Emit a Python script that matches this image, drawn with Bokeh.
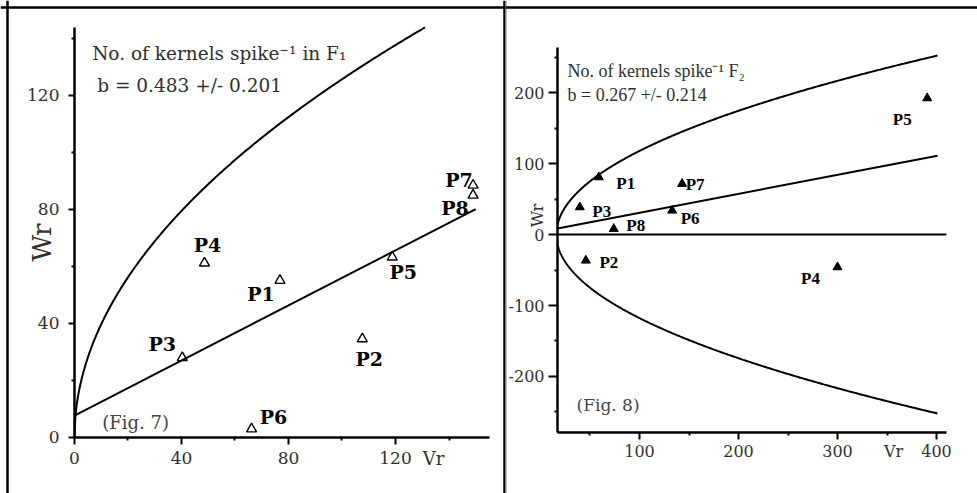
import numpy as np
from bokeh.plotting import figure
from bokeh.layouts import row
from bokeh.models import Range1d, FixedTicker, Span, ColumnDataSource
from bokeh.core.properties import value
from bokeh.embed import file_html
from bokeh.resources import INLINE

# ---- Fig. 7: No. of kernels per spike, F1 ----
f1_names = ["P1", "P2", "P3", "P4", "P5", "P6", "P7", "P8"]
f1_vr = [76.8, 107.6, 40.3, 48.6, 118.8, 66.2, 149.0, 149.0]
f1_wr = [55.1, 34.6, 28.0, 61.2, 63.3, 3.0, 88.5, 85.0]
f1_a, f1_b = 7.7, 0.483          # regression Wr = a + b*Vr
f1_line_vr = [0.0, 150.0]
f1_vp = 158.0                    # limiting parabola Wr^2 = Vp*Vr
f1_parab_end = 131.0
f1_xticks, f1_xminor = [0, 40, 80, 120], [20, 60, 100, 140]
f1_yticks, f1_yminor = [0, 40, 80, 120], [20, 60, 100, 140]

# ---- Fig. 8: No. of kernels per spike, F2 ----
f2_names = ["P1", "P2", "P3", "P4", "P5", "P6", "P7", "P8"]
f2_vr = [58.9, 45.8, 39.7, 300.0, 390.6, 133.0, 143.0, 74.0]
f2_wr = [80.7, -36.6, 38.5, -46.0, 192.0, 33.8, 71.4, 8.0]
f2_a, f2_b = 3.9, 0.267
f2_line_vr = [17.2, 401.0]
f2_vp, f2_v0 = 165.0, 16.0       # limiting parabola Wr^2 = Vp*(Vr - v0)
f2_parab_end = 401.0
f2_xticks, f2_xminor = [100, 200, 300, 400], [50, 150, 250, 350]
f2_yticks, f2_yminor = [-200, -100, 0, 100, 200], [-250, -150, -50, 50, 150, 250]

# label placement (pixel offsets from each point)
f1_dx = [-19, 7, -20, 3, 11, 22, -14, -18]
f1_dy = [14, 20, -14, -18, 15, -12, -5, 13]
f2_dx = [27, 23, 22, -27, -25, 18, 13, 22]
f2_dy = [6, 2, 4, 11, 21, 8, 1, -3]

# axis extents and the visible window of each panel
f1_xb, f1_yb = (0, 155), (0, 144)
f1_view_x, f1_view_y = (-27.66, 161.12), (-19.65, 153.33)
f2_xb, f2_yb = (17.2, 410), (-278.9, 263.4)
f2_view_x, f2_view_y = (-35.35, 441.4), (-364.8, 329.6)

SERIF = "DejaVu Serif"
TXT = "#303030"


def make_panel(w, vx, vy, xb, yb, xt, xm, yt, ym, fsize):
    p = figure(width=w, height=493, x_range=Range1d(*vx), y_range=Range1d(*vy),
               output_backend="svg", toolbar_location=None,
               min_border=0, min_border_left=0, min_border_right=0,
               min_border_top=0, min_border_bottom=0)
    p.xaxis.ticker = FixedTicker(ticks=xt, minor_ticks=xm)
    p.yaxis.ticker = FixedTicker(ticks=yt, minor_ticks=ym)
    p.xaxis.fixed_location = yb[0]
    p.yaxis.fixed_location = xb[0]
    p.xaxis.bounds = xb
    p.yaxis.bounds = yb
    for ax in (p.xaxis[0], p.yaxis[0]):
        ax.axis_line_width = 2.5
        ax.axis_line_color = "black"
        ax.major_tick_in = 0
        ax.major_tick_out = 7
        ax.minor_tick_in = 0
        ax.minor_tick_out = 3
        ax.major_tick_line_width = 2
        ax.minor_tick_line_width = 2
        ax.major_label_text_font = SERIF
        ax.major_label_text_font_size = fsize
        ax.major_label_text_color = TXT
    p.grid.visible = False
    p.outline_line_color = None
    return p


def put_text(p, x, y, s, size, font=SERIF, color=TXT, align="left", angle=0.0):
    p.text(x=[x], y=[y], text=[s], text_font=value(font), text_font_size=size,
           text_color=color, text_align=align, text_baseline="middle", angle=angle)


def rule(p, loc, dim, width):
    # a table rule in canvas pixels
    p.add_layout(Span(location=loc, location_units="canvas", dimension=dim,
                      line_color="black", line_alpha=1.0, line_width=width))


# ---------------- left panel ----------------
p1 = make_panel(505, f1_view_x, f1_view_y, f1_xb, f1_yb,
                f1_xticks, f1_xminor, f1_yticks, f1_yminor, "17px")
p1.xaxis.major_label_standoff = 8
p1.yaxis.major_label_standoff = 9
p1.yaxis.major_tick_out = 6

vr1 = np.linspace(0, f1_parab_end, 400)
p1.line(vr1, np.sqrt(f1_vp * vr1), line_color="black", line_width=2)
p1.line(f1_line_vr, [f1_a + f1_b * v for v in f1_line_vr], line_color="black", line_width=2)

src1 = ColumnDataSource(dict(vr=f1_vr, wr=f1_wr, name=f1_names, dx=f1_dx, dy=f1_dy))
p1.scatter("vr", "wr", source=src1, marker="triangle", size=10, fill_color=None,
           line_color="black", line_width=1.4)
p1.text("vr", "wr", text="name", x_offset="dx", y_offset="dy", source=src1,
        text_font=value(SERIF), text_font_style="bold", text_font_size="19px",
        text_align="center", text_baseline="middle", text_color="black")

put_text(p1, 6.6, 134.7, "No. of kernels spike\u207b\u00b9 in F\u2081", "18.5px")
put_text(p1, 8.5, 123.5, "b = 0.483 +/- 0.201", "18.5px")
put_text(p1, 10.4, 5.4, "(Fig. 7)", "18px", color="#444")
put_text(p1, 134.2, -7.4, "Vr", "18px", align="center")
put_text(p1, -12, 68.4, "Wr", "26px", align="center", angle=np.pi / 2)
rule(p1, 7, "height", 2.5)
rule(p1, 7, "width", 2.5)
rule(p1, 504, "height", 2.5)

# ---------------- right panel ----------------
p2 = make_panel(472, f2_view_x, f2_view_y, f2_xb, f2_yb,
                f2_xticks, f2_xminor, f2_yticks, f2_yminor, "16px")
p2.xaxis.major_label_standoff = 5
p2.yaxis.major_label_standoff = 4
p2.yaxis.major_tick_out = 9
p2.yaxis.major_label_overrides = {-200: "-200", -100: "-100"}

p2.line([f2_xb[0], f2_xb[1]], [0, 0], line_color="black", line_width=2)
vr2 = f2_xb[0] + np.linspace(0, 1, 400) ** 2 * (f2_parab_end - f2_xb[0])
half = np.sqrt(f2_vp * (vr2 - f2_v0))
p2.line(vr2, half, line_color="black", line_width=2)
p2.line(vr2, -half, line_color="black", line_width=2)
p2.line(f2_line_vr, [f2_a + f2_b * v for v in f2_line_vr], line_color="black", line_width=2)

src2 = ColumnDataSource(dict(vr=f2_vr, wr=f2_wr, name=f2_names, dx=f2_dx, dy=f2_dy))
p2.scatter("vr", "wr", source=src2, marker="triangle", size=9, fill_color="black",
           line_color="black", line_width=1)
p2.text("vr", "wr", text="name", x_offset="dx", y_offset="dy", source=src2,
        text_font=value("Liberation Serif"), text_font_style="bold", text_font_size="17px",
        text_align="center", text_baseline="middle", text_color="black")

put_text(p2, 27.3, 231, "No. of kernels spike\u207b\u00b9 F\u2082", "18px", font="Liberation Serif")
put_text(p2, 27.3, 195.8, "b = 0.267 +/- 0.214", "18px", font="Liberation Serif")
put_text(p2, 36.4, -240.8, "(Fig. 8)", "17px", color="#444")
put_text(p2, 356.6, -305.6, "Vr", "16px", align="center")
put_text(p2, -3, 26.8, "Wr", "16px", align="center", angle=np.pi / 2)
rule(p2, 7, "width", 2.5)
rule(p2, 0, "height", 1.5)

layout = row(p1, p2)
open("out.html", "w").write(file_html(layout, INLINE))
